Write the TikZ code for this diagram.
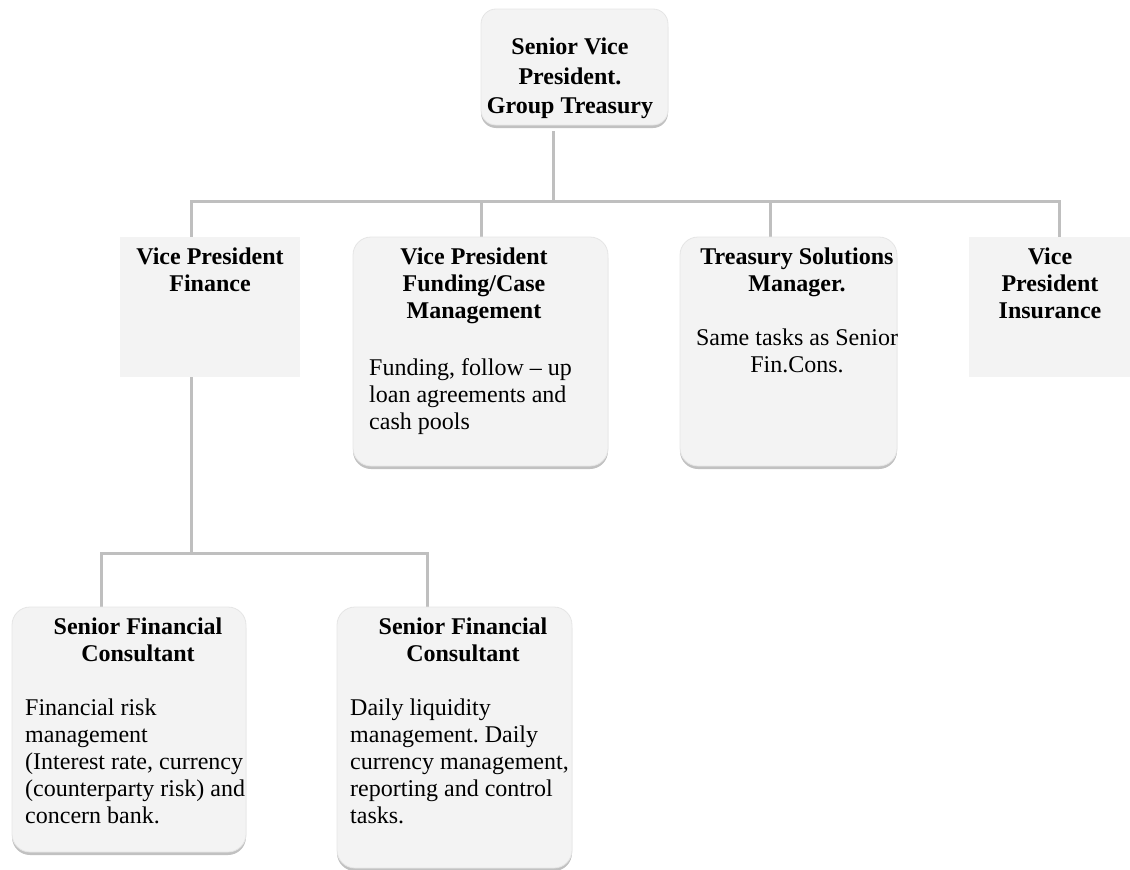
\documentclass[tikz,border=0pt]{standalone}
\usepackage{fontspec}
\setmainfont{Liberation Serif}
\frenchspacing
\usetikzlibrary{shadows,backgrounds,calc}
\definecolor{boxfill}{HTML}{F3F3F3}
\definecolor{linegray}{HTML}{BFBFBF}
\begin{document}
\begin{tikzpicture}[x=1pt,y=-1pt,
  plainbox/.style={fill=boxfill,inner sep=0pt,outer sep=0pt},
  roundbox/.style={plainbox,draw=black!10,line width=0.8pt,rounded corners=18pt,
     drop shadow={shadow xshift=0pt,shadow yshift=-3pt,opacity=0.35,fill=black!70}},
  conn/.style={draw=linegray,line width=3pt},
  ttl/.style={font=\bfseries\fontsize{24}{27}\selectfont,align=center,anchor=north,inner sep=0pt},
  body/.style={font=\fontsize{24}{27}\selectfont,align=left,anchor=north west,inner sep=0pt},
  bodyc/.style={font=\fontsize{24}{27}\selectfont,align=center,anchor=north,inner sep=0pt}]
\useasboundingbox (0,0) rectangle (1130,870);
% boxes
\node[roundbox,minimum width=187pt,minimum height=116pt,rounded corners=15pt] (svp) at (574.5,67) {};
\node[plainbox,minimum width=180pt,minimum height=140pt] (vpf) at (210,307) {};
\node[roundbox,minimum width=255pt,minimum height=229pt] (vpfc) at (480.5,351.5) {};
\node[roundbox,minimum width=217pt,minimum height=229pt] (tsm) at (788.5,351.5) {};
\node[plainbox,minimum width=161pt,minimum height=140pt] (vpi) at (1049.5,307) {};
\node[roundbox,minimum width=234pt,minimum height=245pt] (sfc1) at (129,729.5) {};
\node[roundbox,minimum width=235pt,minimum height=261pt] (sfc2) at (454.5,737.5) {};
% texts
\node[ttl,font=\bfseries\fontsize{24}{29.5}\selectfont] (tsvp) at (570,38) {Senior Vice\\President.\\Group Treasury};
\node[ttl] (tvpf) at (210,248) {Vice President\\Finance};
\node[ttl] (tvpfc) at (474,248) {Vice President\\Funding/Case\\Management};
\node[body] (bvpfc) at (369,358) {Funding, follow -- up\\loan agreements and\\cash pools};
\node[ttl] (ttsm) at (797,248) {Treasury Solutions\\Manager.};
\node[bodyc] (btsm) at (797,329) {Same tasks as Senior\\Fin.Cons.};
\node[ttl] (tvpi) at (1050,248) {Vice\\President\\Insurance};
\node[ttl] (tsfc1) at (138,618) {Senior Financial\\Consultant};
\node[body] (bsfc1) at (25,699) {Financial risk\\management\\(Interest rate, currency\\(counterparty risk) and\\concern bank.};
\node[ttl] (tsfc2) at (463,618) {Senior Financial\\Consultant};
\node[body] (bsfc2) at (350,699) {Daily liquidity\\management. Daily\\currency management,\\reporting and control\\tasks.};
% connectors
\coordinate (t0) at (553,201);
\coordinate (busL) at (191,201);
\coordinate (busR) at (1059,201);
\coordinate (t2) at (481,201);
\coordinate (t3) at (770,201);
\coordinate (bf) at (191,553);
\coordinate (b1) at (101,553);
\coordinate (b2) at (427,553);
\begin{scope}[on background layer]
\draw[conn] ($(t0 |- svp.south)+(0,6)$) -- (t0);
\draw[conn] (busL |- vpf.north) -- (busL) -- (busR) -- (busR |- vpi.north);
\draw[conn] (t2) -- (t2 |- vpfc.north);
\draw[conn] (t3) -- (t3 |- tsm.north);
\draw[conn] (bf |- vpf.south) -- (bf);
\draw[conn] (b1 |- sfc1.north) -- (b1) -- (b2) -- (b2 |- sfc2.north);
\end{scope}
\end{tikzpicture}
\end{document}
